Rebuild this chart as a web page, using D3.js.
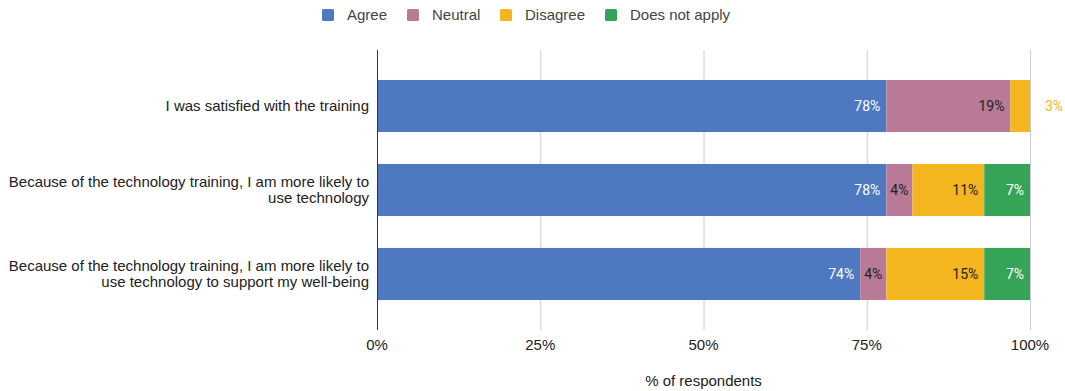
<!DOCTYPE html>
<html>
<head>
<meta charset="utf-8">
<script src="https://cdn.jsdelivr.net/npm/d3@7"></script>
<style>
  html, body { margin: 0; padding: 0; background: #fff; }
  svg { display: block; }
</style>
</head>
<body>
<svg id="chart" width="1065" height="391"></svg>
<script>
// Survey statements (one horizontal bar per statement)
const statements = [
  ["I was satisfied with the training"],
  ["Because of the technology training, I am more likely to", "use technology"],
  ["Because of the technology training, I am more likely to", "use technology to support my well-being"]
];

// Response categories and their colours
const responses = ["Agree", "Neutral", "Disagree", "Does not apply"];
const responseColors = ["#4e79c0", "#b87a97", "#f3b61f", "#36a456"];

// Percentage of respondents per statement, one array per response
const agree        = [78, 78, 74];
const neutral      = [19, 4, 4];
const disagree     = [3, 11, 15];
const doesNotApply = [0, 7, 7];

// Axis ticks
const tickValues = [0, 25, 50, 75, 100];

const series = [agree, neutral, disagree, doesNotApply];
const rows = statements.map((s, i) => {
  const r = { id: i, label: s };
  responses.forEach((k, j) => { r[k] = series[j][i]; });
  return r;
});

const svg = d3.select("#chart");
const plotLeft = 377, plotRight = 1030, plotTop = 50, plotBottom = 330;
const baseFont = "'Liberation Sans', Arial, sans-serif";

const x = d3.scaleLinear().domain([0, 100]).range([plotLeft, plotRight]);
const y = d3.scaleBand().domain(rows.map(r => r.id)).range([plotTop, plotBottom])
  .paddingInner(0.38).paddingOuter(0.357);
const color = d3.scaleOrdinal().domain(responses).range(responseColors);

// Vertical gridlines
svg.append("g").selectAll("line").data(tickValues.filter(t => t > 0)).join("line")
  .attr("x1", d => x(d) + 0.5).attr("x2", d => x(d) + 0.5)
  .attr("y1", plotTop).attr("y2", plotBottom)
  .attr("stroke", "#cccccc").attr("stroke-width", 1);

// Stacked bars
const stack = d3.stack().keys(responses)(rows);
const layers = svg.append("g").selectAll("g").data(stack).join("g")
  .attr("fill", d => color(d.key));
layers.selectAll("rect").data(d => d.map(p => ({ key: d.key, p }))).join("rect")
  .attr("x", d => x(d.p[0]))
  .attr("y", d => y(d.p.data.id))
  .attr("width", d => Math.max(0, x(d.p[1]) - x(d.p[0])))
  .attr("height", y.bandwidth());

// Zero axis line
svg.append("line")
  .attr("x1", x(0) + 0.5).attr("x2", x(0) + 0.5)
  .attr("y1", plotTop).attr("y2", plotBottom)
  .attr("stroke", "#333").attr("stroke-width", 1);

// Value labels on segments
const textColor = { "Agree": "#ffffff", "Neutral": "#222222", "Disagree": "#222222", "Does not apply": "#ffffff" };
const labelG = svg.append("g").attr("font-family", "Roboto, " + baseFont)
  .attr("font-size", 14);
stack.forEach(layer => {
  layer.forEach(p => {
    const v = p[1] - p[0];
    if (v <= 0) return;
    const x0 = x(p[0]), x1 = x(p[1]);
    const w = x1 - x0;
    const txt = v + "%";
    const cy = y(p.data.id) + y.bandwidth() / 2;
    const t = labelG.append("text").text(txt).attr("y", cy).attr("dy", "0.35em");
    const tw = t.node().getComputedTextLength();
    if (tw + 4 <= w) {
      if (tw + 12 <= w) {
        t.attr("x", x1 - 6).attr("text-anchor", "end");
      } else {
        t.attr("x", (x0 + x1) / 2).attr("text-anchor", "middle");
      }
      t.attr("fill", textColor[layer.key]);
    } else {
      t.attr("x", x1 + 15).attr("text-anchor", "start").attr("fill", color(layer.key));
    }
  });
});

// Category labels
const catG = svg.append("g").attr("font-family", baseFont)
  .attr("font-size", 15).attr("fill", "#222").attr("text-anchor", "end");
rows.forEach(r => {
  const cy = y(r.id) + y.bandwidth() / 2;
  const n = r.label.length;
  const lh = 16;
  const t = catG.append("text").attr("x", 369);
  r.label.forEach((line, i) => {
    t.append("tspan").attr("x", 369)
      .attr("y", cy + (i - (n - 1) / 2) * lh)
      .attr("dy", "0.35em").text(line);
  });
});

// X axis tick labels
svg.append("g").attr("font-family", baseFont)
  .attr("font-size", 15).attr("fill", "#222").attr("text-anchor", "middle")
  .selectAll("text").data(tickValues).join("text")
  .attr("x", d => x(d)).attr("y", 350).text(d => d + "%");

// X axis title
svg.append("text").attr("x", (plotLeft + plotRight) / 2).attr("y", 386)
  .attr("text-anchor", "middle")
  .attr("font-family", baseFont)
  .attr("font-size", 15).attr("fill", "#222").text("% of respondents");

// Legend
const legendX = [322, 407, 500, 605];
const leg = svg.append("g").attr("font-family", baseFont)
  .attr("font-size", 15).attr("fill", "#444");
responses.forEach((k, i) => {
  leg.append("rect").attr("x", legendX[i]).attr("y", 9).attr("width", 12).attr("height", 12)
    .attr("rx", 1.5).attr("fill", color(k));
  leg.append("text").attr("x", legendX[i] + 25).attr("y", 15).attr("dy", "0.35em").text(k);
});
</script>
</body>
</html>
